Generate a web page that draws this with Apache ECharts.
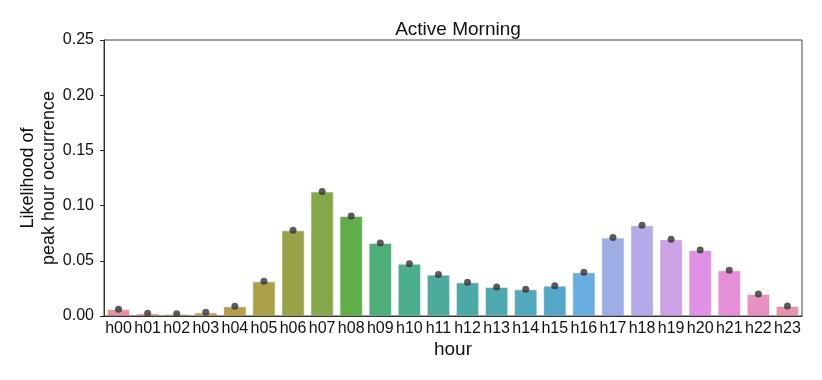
<!DOCTYPE html>
<html>
<head>
<meta charset="utf-8">
<script src="https://cdn.jsdelivr.net/npm/echarts@6/dist/echarts.min.js"></script>
<style>
  html, body { margin: 0; padding: 0; background: #fff; }
  #chart { width: 822px; height: 380px; }
</style>
</head>
<body>
<div id="chart"></div>
<script>
const hours = ["h00", "h01", "h02", "h03", "h04", "h05", "h06", "h07", "h08", "h09", "h10", "h11",
  "h12", "h13", "h14", "h15", "h16", "h17", "h18", "h19", "h20", "h21", "h22", "h23"];
const likelihood = [0.0062, 0.0024, 0.0020, 0.0033, 0.0088, 0.0314, 0.0776, 0.1127, 0.0906, 0.0661, 0.0474, 0.0375,
  0.0305, 0.0263, 0.0242, 0.0275, 0.0396, 0.0710, 0.0822, 0.0695, 0.0598, 0.0414, 0.0199, 0.0091];
const yTicks = [0, 0.05, 0.10, 0.15, 0.20, 0.25];

// husl palette, desaturated like seaborn
const palette = ["#e8929f", "#e6907f", "#dc9a63", "#cda052", "#b99d47", "#a9a048", "#98a348", "#85a948",
  "#60ae4a", "#4daf78", "#4bae8e", "#4cab9c", "#4ca9a6", "#4ea9b0", "#50a8bc", "#55a8c9",
  "#6aaee1", "#9daee6", "#b6aaea", "#cda1e6", "#e091e6", "#e68fd6", "#e890c2", "#e993ad"];

const chart = echarts.init(document.getElementById("chart"));
const font = "Liberation Sans, Arial, sans-serif";

chart.setOption({
  animation: false,
  title: {
    text: "Active Morning",
    left: 453,
    textAlign: "center",
    top: 15,
    textStyle: { fontFamily: font, fontSize: 19, fontWeight: "normal", color: "#111" },
  },
  grid: { left: 104, right: 20, top: 40, bottom: 64 },
  xAxis: {
    type: "category",
    data: hours,
    name: "hour",
    nameLocation: "middle",
    nameGap: 24,
    nameMoveOverlap: false,
    nameTextStyle: { fontFamily: font, fontSize: 19, color: "#111" },
    axisLine: { lineStyle: { color: "#222", width: 1 } },
    axisTick: { alignWithLabel: true, length: 4, lineStyle: { color: "#222" } },
    axisLabel: { interval: 0, fontFamily: font, fontSize: 16, color: "#111", margin: 5 },
  },
  yAxis: {
    type: "value",
    min: 0,
    max: 0.25,
    interval: 0.05,
    name: "Likelihood of\npeak hour occurrence",
    nameLocation: "middle",
    nameGap: 44,
    nameMoveOverlap: false,
    nameTextStyle: { fontFamily: font, fontSize: 18, color: "#111", lineHeight: 21 },
    axisLine: { show: true, lineStyle: { color: "#222", width: 1 } },
    axisTick: { show: true, length: 4, lineStyle: { color: "#222" } },
    splitLine: { show: false },
    axisLabel: {
      fontFamily: font, fontSize: 16, color: "#111", margin: 10,
      formatter: (v) => yTicks.includes(+v.toFixed(2)) ? v.toFixed(2) : "",
    },
  },
  series: [
    {
      type: "bar",
      data: likelihood.map((v, i) => ({ value: v, itemStyle: { color: palette[i] } })),
      barWidth: "80%",
      itemStyle: { borderColor: "rgba(255,255,255,0.55)", borderWidth: 1 },
    },
    {
      // confidence interval marks
      type: "scatter",
      data: likelihood,
      symbol: "circle",
      symbolSize: 7,
      itemStyle: { color: "#333" },
      z: 5,
    },
  ],
  graphic: [
    {
      type: "rect",
      shape: { x: 104, y: 40, width: 698, height: 276 },
      style: { fill: "none", stroke: "#444", lineWidth: 1 },
      silent: true,
      z: 10,
    },
  ],
});
</script>
</body>
</html>
